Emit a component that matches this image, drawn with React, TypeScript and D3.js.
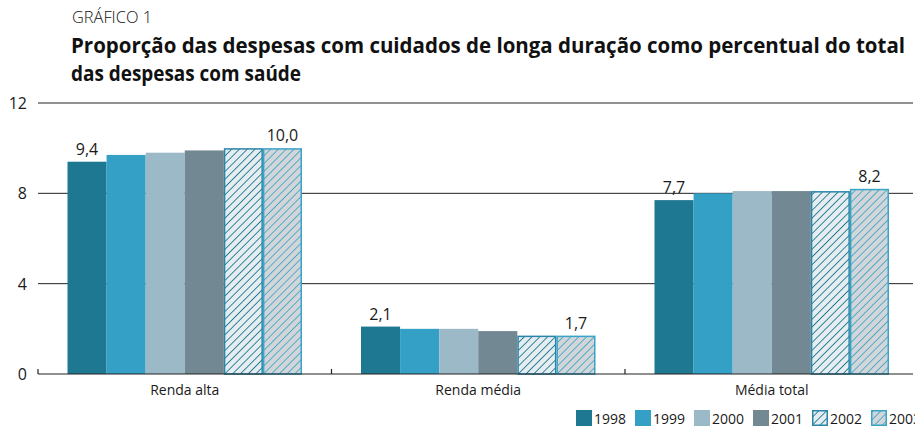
import React from "react";
import * as d3 from "d3";

const categories = ["Renda alta", "Renda média", "Média total"];
const years = ["1998", "1999", "2000", "2001", "2002", "2003"];
const values1998 = [9.4, 2.1, 7.7];
const values1999 = [9.7, 2.0, 8.0];
const values2000 = [9.8, 2.0, 8.1];
const values2001 = [9.9, 1.9, 8.1];
const values2002 = [10.0, 1.7, 8.1];
const values2003 = [10.0, 1.7, 8.2];
const seriesValues = [values1998, values1999, values2000, values2001, values2002, values2003];
const yTicks = [0, 4, 8, 12];
const labelledSeries = [0, 5];

const fills = ["#1f7892", "#35a0c6", "#9cb9c8", "#728993", "url(#hatch2002)", "url(#hatch2003)"];
const strokes = ["none", "none", "none", "none", "#2a86a8", "#3aa3c8"];

const W = 915;
const H = 429;
const left = 38;
const top = 103;
const bottom = 374;
const font = "'Open Sans', 'Liberation Sans', sans-serif";

export default function App() {
  const x0 = d3.scaleBand<string>().domain(categories).range([left, left + 3 * 293.5]).paddingInner(0).paddingOuter(0);
  const groupW = x0.bandwidth();
  const inner = 29.5;
  const x1 = d3.scaleBand<string>().domain(years).range([inner, groupW - inner]).padding(0);
  const y = d3.scaleLinear().domain([0, 12]).range([bottom, top]);
  const fmt = (v: number) => d3.format(".1f")(v).replace(".", ",");

  return (
    <svg width={W} height={H} style={{ position: "absolute", left: 0, top: 0, background: "#fff" }}>
      <defs>
        <pattern id="hatch2002" patternUnits="userSpaceOnUse" width="5.5" height="5.5" patternTransform="rotate(45)">
          <rect width="5.5" height="5.5" fill="#e6edf0" />
          <line x1="0" y1="0" x2="0" y2="5.5" stroke="#1f7892" strokeWidth="1.8" />
        </pattern>
        <pattern id="hatch2003" patternUnits="userSpaceOnUse" width="5.5" height="5.5" patternTransform="rotate(45)">
          <rect width="5.5" height="5.5" fill="#d2d6d9" />
          <line x1="0" y1="0" x2="0" y2="5.5" stroke="#35a0c6" strokeWidth="1.6" />
        </pattern>
      </defs>
      <text x={72} y={23} fontFamily={font} fontSize={16} fontWeight={300} fill="#111" textLength={80} lengthAdjust="spacingAndGlyphs">GRÁFICO 1</text>
      <text x={71} y={53} fontFamily={font} fontSize={20.5} fontWeight={700} fill="#111" textLength={834} lengthAdjust="spacingAndGlyphs">
        Proporção das despesas com cuidados de longa duração como percentual do total
      </text>
      <text x={71} y={81} fontFamily={font} fontSize={20.5} fontWeight={700} fill="#111" textLength={230} lengthAdjust="spacingAndGlyphs">
        das despesas com saúde
      </text>
      {yTicks.map((t) => (
        <g key={t}>
          {t > 0 && <line x1={left} x2={913} y1={y(t)} y2={y(t)} stroke="#222" strokeWidth={1} />}
          <text x={27} y={y(t) + 6} textAnchor="end" fontFamily={font} fontSize={16} fontWeight={400} fill="#1a1a1a">{t}</text>
        </g>
      ))}
      {categories.map((c, ci) => (
        <g key={c} transform={`translate(${x0(c)},0)`}>
          {seriesValues.map((vals, si) => (
            <rect
              key={si}
              x={(x1(years[si]) as number) + (si >= 4 ? 0.75 : 0)}
              y={y(vals[ci]) + (si >= 4 ? 0.75 : 0)}
              width={x1.bandwidth() - (si >= 4 ? 1.5 : 0)}
              height={y(0) - y(vals[ci]) - (si >= 4 ? 0.75 : 0)}
              fill={fills[si]}
              stroke={strokes[si]}
              strokeWidth={si >= 4 ? 1.5 : 0}
            />
          ))}
          {labelledSeries.map((si) => (
            <text
              key={si}
              x={(x1(years[si]) as number) + x1.bandwidth() / 2}
              y={y(seriesValues[si][ci]) - 7}
              textAnchor="middle"
              fontFamily={font}
              fontSize={16}
              fontWeight={400}
              fill="#1a1a1a"
            >
              {fmt(seriesValues[si][ci])}
            </text>
          ))}
          <text x={groupW / 2} y={395} textAnchor="middle" fontFamily={font} fontSize={14} fontWeight={400} fill="#1a1a1a">{c}</text>
        </g>
      ))}
      <line x1={left} x2={913} y1={bottom} y2={bottom} stroke="#222" strokeWidth={1.2} />
      {categories.map((c) => (
        <line key={c} x1={x0(c) as number} x2={x0(c) as number} y1={bottom - 5} y2={bottom} stroke="#222" strokeWidth={1.2} />
      ))}
      {years.map((yr, i) => {
        const lx = 576 + i * 59;
        return (
          <g key={yr}>
            <rect
              x={lx + (i >= 4 ? 0.75 : 0)}
              y={410 + (i >= 4 ? 0.75 : 0)}
              width={16 - (i >= 4 ? 1.5 : 0)}
              height={16 - (i >= 4 ? 1.5 : 0)}
              fill={fills[i]}
              stroke={strokes[i]}
              strokeWidth={i >= 4 ? 1.5 : 0}
            />
            <text x={lx + 18} y={424} fontFamily={font} fontSize={14} fontWeight={400} fill="#1a1a1a">{yr}</text>
          </g>
        );
      })}
    </svg>
  );
}
